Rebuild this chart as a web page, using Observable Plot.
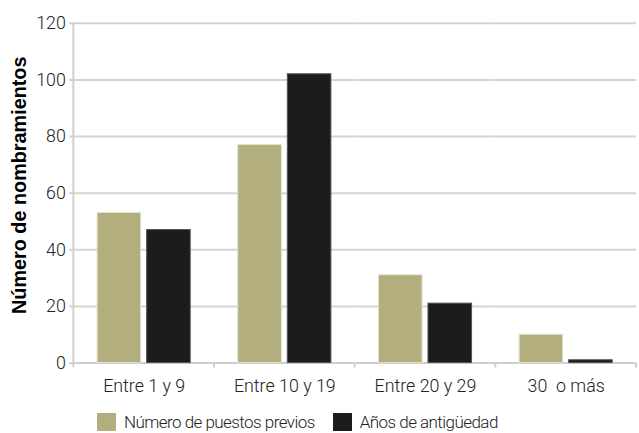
<!DOCTYPE html>
<html>
<head>
<meta charset="utf-8">
<script src="https://cdn.jsdelivr.net/npm/d3@7"></script>
<script src="https://cdn.jsdelivr.net/npm/@observablehq/plot@0.6"></script>
<style>
  html, body { margin: 0; padding: 0; background: #fff; overflow: hidden; }
  #chart { font-family: Roboto, "Liberation Sans", sans-serif; font-weight: 300; color: #222; }
  #chart svg { display: block; overflow: visible; }
  #chart svg text { fill: #222; }
  g[aria-label="y-axis label"] text {
    font-family: "Liberation Sans", Arial, sans-serif;
    font-weight: bold; font-size: 20px; fill: #000 !important;
  }
  .legend { display: flex; align-items: center; margin: 17px 0 0 97px; font-size: 17px; letter-spacing: -0.55px; line-height: 18px; }
  .legend .item { display: flex; align-items: center; margin-right: 18px; }
  .legend .sw { width: 19px; height: 18px; margin-right: 8px; }
</style>
</head>
<body>
<div id="chart"></div>
<script>
// Nombramientos según tramo de años
const categories = ["Entre 1 y 9", "Entre 10 y 19", "Entre 20 y 29", "30  o más"];
const series = ["Número de puestos previos", "Años de antigüedad"];
const puestosPrevios = [53, 77, 31, 10];
const aniosAntiguedad = [47, 102, 21, 1];
const yTicks = [0, 20, 40, 60, 80, 100, 120];
const colors = ["#b2ae7e", "#1c1c1c"];

const rows = categories.flatMap((c, i) => [
  {cat: c, serie: series[0], value: puestosPrevios[i]},
  {cat: c, serie: series[1], value: aniosAntiguedad[i]}
]);

const plot = Plot.plot({
  width: 645,
  height: 400,
  marginLeft: 73,
  marginRight: 2,
  marginTop: 23,
  marginBottom: 34,
  style: {fontSize: "18px", fontFamily: 'Roboto, "Liberation Sans", sans-serif', fontWeight: 300},
  fx: {domain: categories, padding: 0, label: null},
  x: {domain: series, paddingInner: 0.12, paddingOuter: 0.455, axis: null},
  y: {domain: [0, 120]},
  color: {domain: series, range: colors},
  marks: [
    Plot.gridY(yTicks, {stroke: "#d4d4d4", strokeWidth: 2, strokeOpacity: 1}),
    Plot.ruleY([0], {stroke: "#cfcfcf", strokeWidth: 2}),
    Plot.axisFx({anchor: "bottom", tickSize: 0, tickPadding: 16, label: null}),
    Plot.axisY(yTicks, {
      tickSize: 4, tickPadding: 4, stroke: "#cfcfcf", strokeWidth: 2,
      label: "Número de nombramientos", labelAnchor: "center", labelArrow: "none", labelOffset: 62
    }),
    Plot.barY(rows, {
      fx: "cat", x: "serie", y: "value", fill: "serie",
      stroke: d => d.serie === series[0] ? "#e4e2cc" : "#555", strokeWidth: 1
    })
  ]
});

// Left axis line and category boundary ticks, placed from the chart's own scales
const fx = plot.scale("fx"), y = plot.scale("y");
const svg = d3.select(plot);
const g = svg.append("g").attr("stroke", "#cfcfcf").attr("stroke-width", 2);
const x0 = fx.apply(categories[0]);
g.append("line").attr("x1", x0).attr("x2", x0).attr("y1", y.apply(120)).attr("y2", y.apply(0) + 5);
categories.forEach(c => {
  const xb = fx.apply(c) + fx.bandwidth;
  g.append("line").attr("x1", xb).attr("x2", xb).attr("y1", y.apply(0)).attr("y2", y.apply(0) + 5);
});

// Axis title sits a little above the plot's vertical centre
svg.selectAll('g[aria-label="y-axis label"] text').attr("dx", 8);

document.getElementById("chart").append(plot);

// Legend
const legend = d3.select("#chart").append("div").attr("class", "legend");
series.forEach((s, i) => {
  const it = legend.append("div").attr("class", "item");
  it.append("div").attr("class", "sw").style("background", colors[i]);
  it.append("span").text(s);
});
</script>
</body>
</html>
